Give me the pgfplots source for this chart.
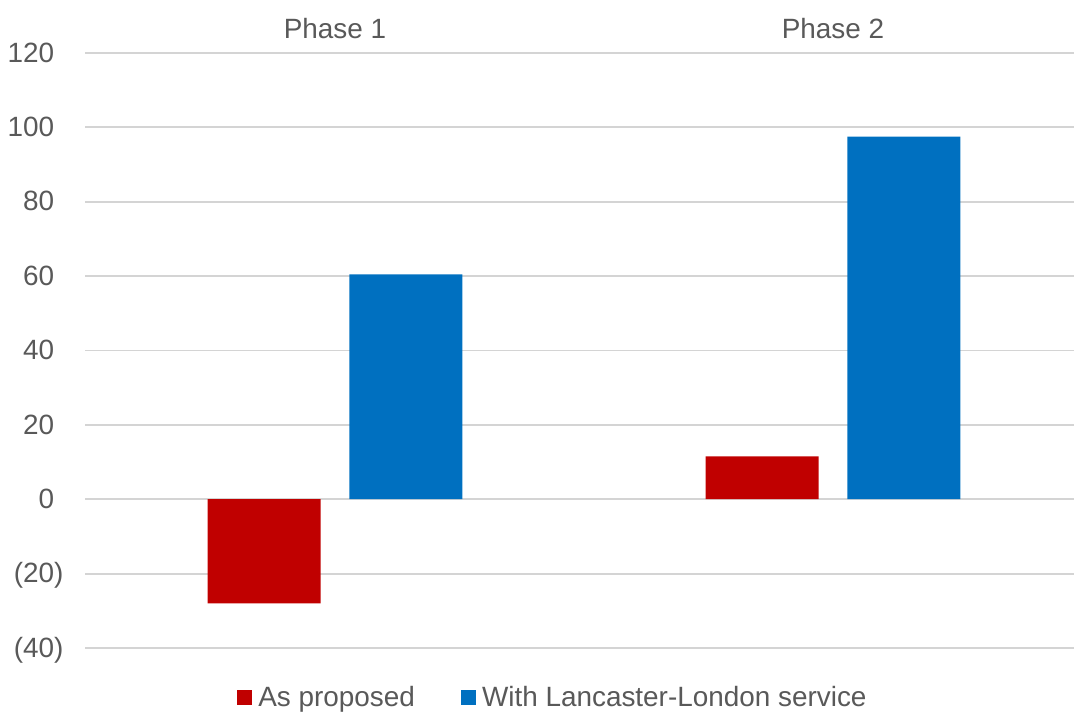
\documentclass[border=0pt]{standalone}
\usepackage{fontspec}
\setmainfont{Liberation Sans}
\usepackage{pgfplots}
\pgfplotsset{compat=1.18}
\definecolor{cred}{RGB}{192,0,0}
\definecolor{cblue}{RGB}{0,112,192}
\definecolor{ctext}{RGB}{89,89,89}
\definecolor{cgrid}{RGB}{212,212,212}
\begin{document}
\begin{tikzpicture}[x=1bp,y=1bp]
\path[use as bounding box] (0,0) rectangle (1074,715);
\begin{axis}[
  at={(85bp,67bp)}, anchor=south west,
  scale only axis, width=990bp, height=595bp,
  xmin=-0.502, xmax=1.486, ymin=-40, ymax=120,
  axis line style={draw=none},
  major tick length=0pt,
  ymajorgrids, grid style={cgrid, line width=1.8bp},
  ytick={-40,-20,0,20,40,60,80,100,120},
  yticklabels={(40),(20),0\phantom{)},20\phantom{)},40\phantom{)},60\phantom{)},80\phantom{)},100\phantom{)},120\phantom{)}},
  xtick={0,1}, xticklabels={Phase 1,Phase 2}, xticklabel pos=right,
  tick label style={font=\fontsize{28}{33}\selectfont, text=ctext},
  yticklabel style={anchor=east, xshift=-18bp, yshift=-2bp},
  xticklabel style={yshift=11bp},
  ybar, bar width=0.227,
  legend columns=2,
  legend style={draw=none, at={(0.4747,-0.0824)}, anchor=center,
    font=\fontsize{28}{33}\selectfont, text=ctext,
    /tikz/every even column/.append style={column sep=40bp},
    nodes={inner xsep=6bp}},
  legend image code/.code={\fill[#1] (0bp,-7.5bp) rectangle (15bp,7.5bp);},
]
\addplot[fill=cred, draw=none, bar shift=-0.1425] coordinates {(0,-28) (1,11.5)};
\addplot[fill=cblue, draw=none, bar shift=0.1425] coordinates {(0,60.5) (1,97.5)};
\legend{As proposed, With Lancaster-London service}
\end{axis}
\end{tikzpicture}
\end{document}
